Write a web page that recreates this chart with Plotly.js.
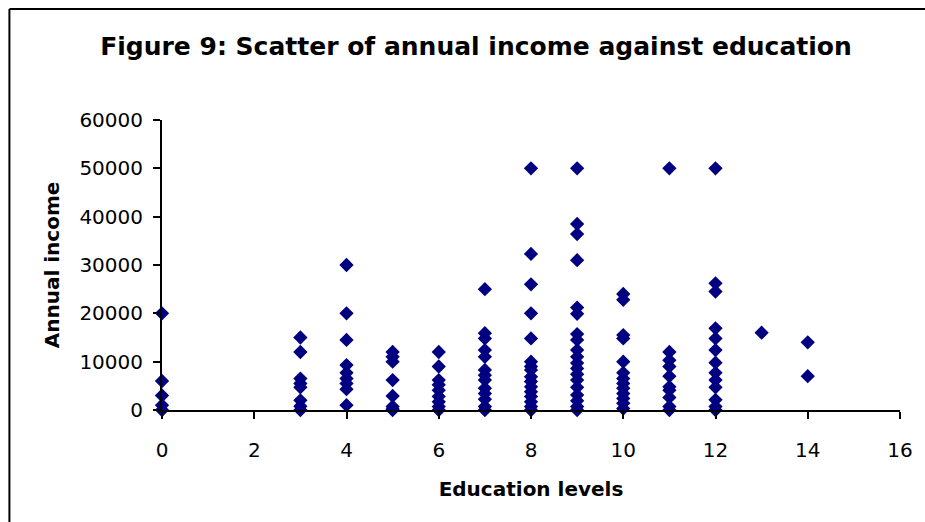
<!DOCTYPE html>
<html>
<head>
<meta charset="utf-8">
<script src="https://cdn.plot.ly/plotly-3.0.1.min.js"></script>
<style>
  html, body { margin: 0; padding: 0; background: #ffffff; overflow: hidden; }
  #chart { width: 925px; height: 522px; }
</style>
</head>
<body>
<div id="chart"></div>
<script>
// Education levels that have respondents, and the annual incomes observed at each level
const educationLevels = [0, 3, 4, 5, 6, 7, 8, 9, 10, 11, 12, 13, 14];

const incomeLevel0  = [20000, 6000, 3000, 1000, 0];
const incomeLevel3  = [15000, 12000, 6500, 5500, 4700, 2000, 800, 0];
const incomeLevel4  = [30000, 20000, 14500, 9300, 7700, 6500, 5500, 4300, 1000];
const incomeLevel5  = [12000, 11000, 10000, 6200, 2900, 700, 200, 0];
const incomeLevel6  = [12000, 9000, 6200, 5200, 4100, 2800, 1700, 700, 0];
const incomeLevel7  = [25000, 15900, 14800, 12400, 11000, 8300, 7200, 6200, 4500, 3400, 2200, 700, 0];
const incomeLevel8  = [50000, 32300, 26000, 20000, 14800, 10000, 9000, 8300, 6900, 5900, 4800, 3800, 2800, 1700, 700, 0];
const incomeLevel9  = [50000, 38500, 36400, 31000, 21200, 19900, 15700, 14500, 12400, 11000, 9700, 8600, 7400, 6200, 4700, 3100, 1900, 700, 0];
const incomeLevel10 = [24000, 22800, 15500, 14800, 10000, 7700, 6500, 5500, 4500, 3400, 2400, 1400, 300];
const incomeLevel11 = [50000, 12000, 10300, 9000, 7000, 4800, 4100, 2600, 700, 0];
const incomeLevel12 = [50000, 26200, 24500, 16900, 14800, 12400, 9800, 7700, 6200, 4700, 2100, 700, 0];
const incomeLevel13 = [16000];
const incomeLevel14 = [14000, 7000];

const incomesByLevel = [
  incomeLevel0, incomeLevel3, incomeLevel4, incomeLevel5, incomeLevel6,
  incomeLevel7, incomeLevel8, incomeLevel9, incomeLevel10, incomeLevel11,
  incomeLevel12, incomeLevel13, incomeLevel14
];

const xTickValues = [0, 2, 4, 6, 8, 10, 12, 14, 16];
const yTickValues = [0, 10000, 20000, 30000, 40000, 50000, 60000];

// Flatten into paired x / y lists for one scatter trace
const xs = [];
const ys = [];
educationLevels.forEach(function (lvl, i) {
  incomesByLevel[i].forEach(function (v) { xs.push(lvl); ys.push(v); });
});

const FONT = '"DejaVu Sans", "Liberation Sans", Arial, sans-serif';

const trace = {
  type: 'scatter',
  mode: 'markers',
  x: xs,
  y: ys,
  cliponaxis: false,
  hoverinfo: 'x+y',
  marker: { symbol: 'diamond', size: 11, color: '#000080', line: { width: 0 } }
};

// Plot area spans x 162..902 px and y 120..410 px of the page
const L = 162, R = 23, T = 120, B = 112;
const W = 925 - L - R, H = 522 - T - B;
function px(xp) { return (xp - L) / W; }
function py(yp) { return (522 - B - yp) / H; }

const layout = {
  width: 925,
  height: 522,
  margin: { l: L, r: R, t: T, b: B },
  paper_bgcolor: '#ffffff',
  plot_bgcolor: '#ffffff',
  showlegend: false,
  font: { family: FONT, color: '#000000', size: 20 },
  title: {
    text: '<b>Figure 9: Scatter of annual income against education</b>',
    font: { family: FONT, size: 25, color: '#000000' },
    xref: 'container', x: 476 / 925, xanchor: 'center',
    yref: 'container', y: 1 - 46 / 522, yanchor: 'middle'
  },
  xaxis: {
    range: [0, 16],
    tickvals: xTickValues,
    ticktext: xTickValues.map(String),
    ticks: 'outside', ticklen: 7, tickwidth: 2, tickcolor: '#000000',
    showline: true, linecolor: '#000000', linewidth: 2,
    showgrid: false, zeroline: false,
    tickfont: { family: FONT, size: 20, color: '#000000' },
    ticklabelstandoff: 14,
    automargin: true,
    title: { text: '<b>Education levels</b>', font: { family: FONT, size: 20, color: '#000000' }, standoff: 21 }
  },
  yaxis: {
    range: [0, 60000],
    tickvals: yTickValues,
    ticktext: yTickValues.map(String),
    ticks: 'outside', ticklen: 7, tickwidth: 2, tickcolor: '#000000',
    showline: true, linecolor: '#000000', linewidth: 2,
    showgrid: false, zeroline: false,
    tickfont: { family: FONT, size: 20, color: '#000000' },
    ticklabelstandoff: 6,
    automargin: true,
    title: { text: '<b>Annual income</b>', font: { family: FONT, size: 20, color: '#000000' }, standoff: 14 }
  },
  shapes: [
    // chart frame (left and top edges)
    { type: 'line', xref: 'paper', yref: 'paper', x0: px(9), x1: px(9), y0: py(9), y1: py(540),
      line: { color: '#000000', width: 2 } },
    { type: 'line', xref: 'paper', yref: 'paper', x0: px(9), x1: px(940), y0: py(9), y1: py(9),
      line: { color: '#000000', width: 2 } }
  ]
};

Plotly.newPlot('chart', [trace], layout, { displayModeBar: false, staticPlot: true });
</script>
</body>
</html>
